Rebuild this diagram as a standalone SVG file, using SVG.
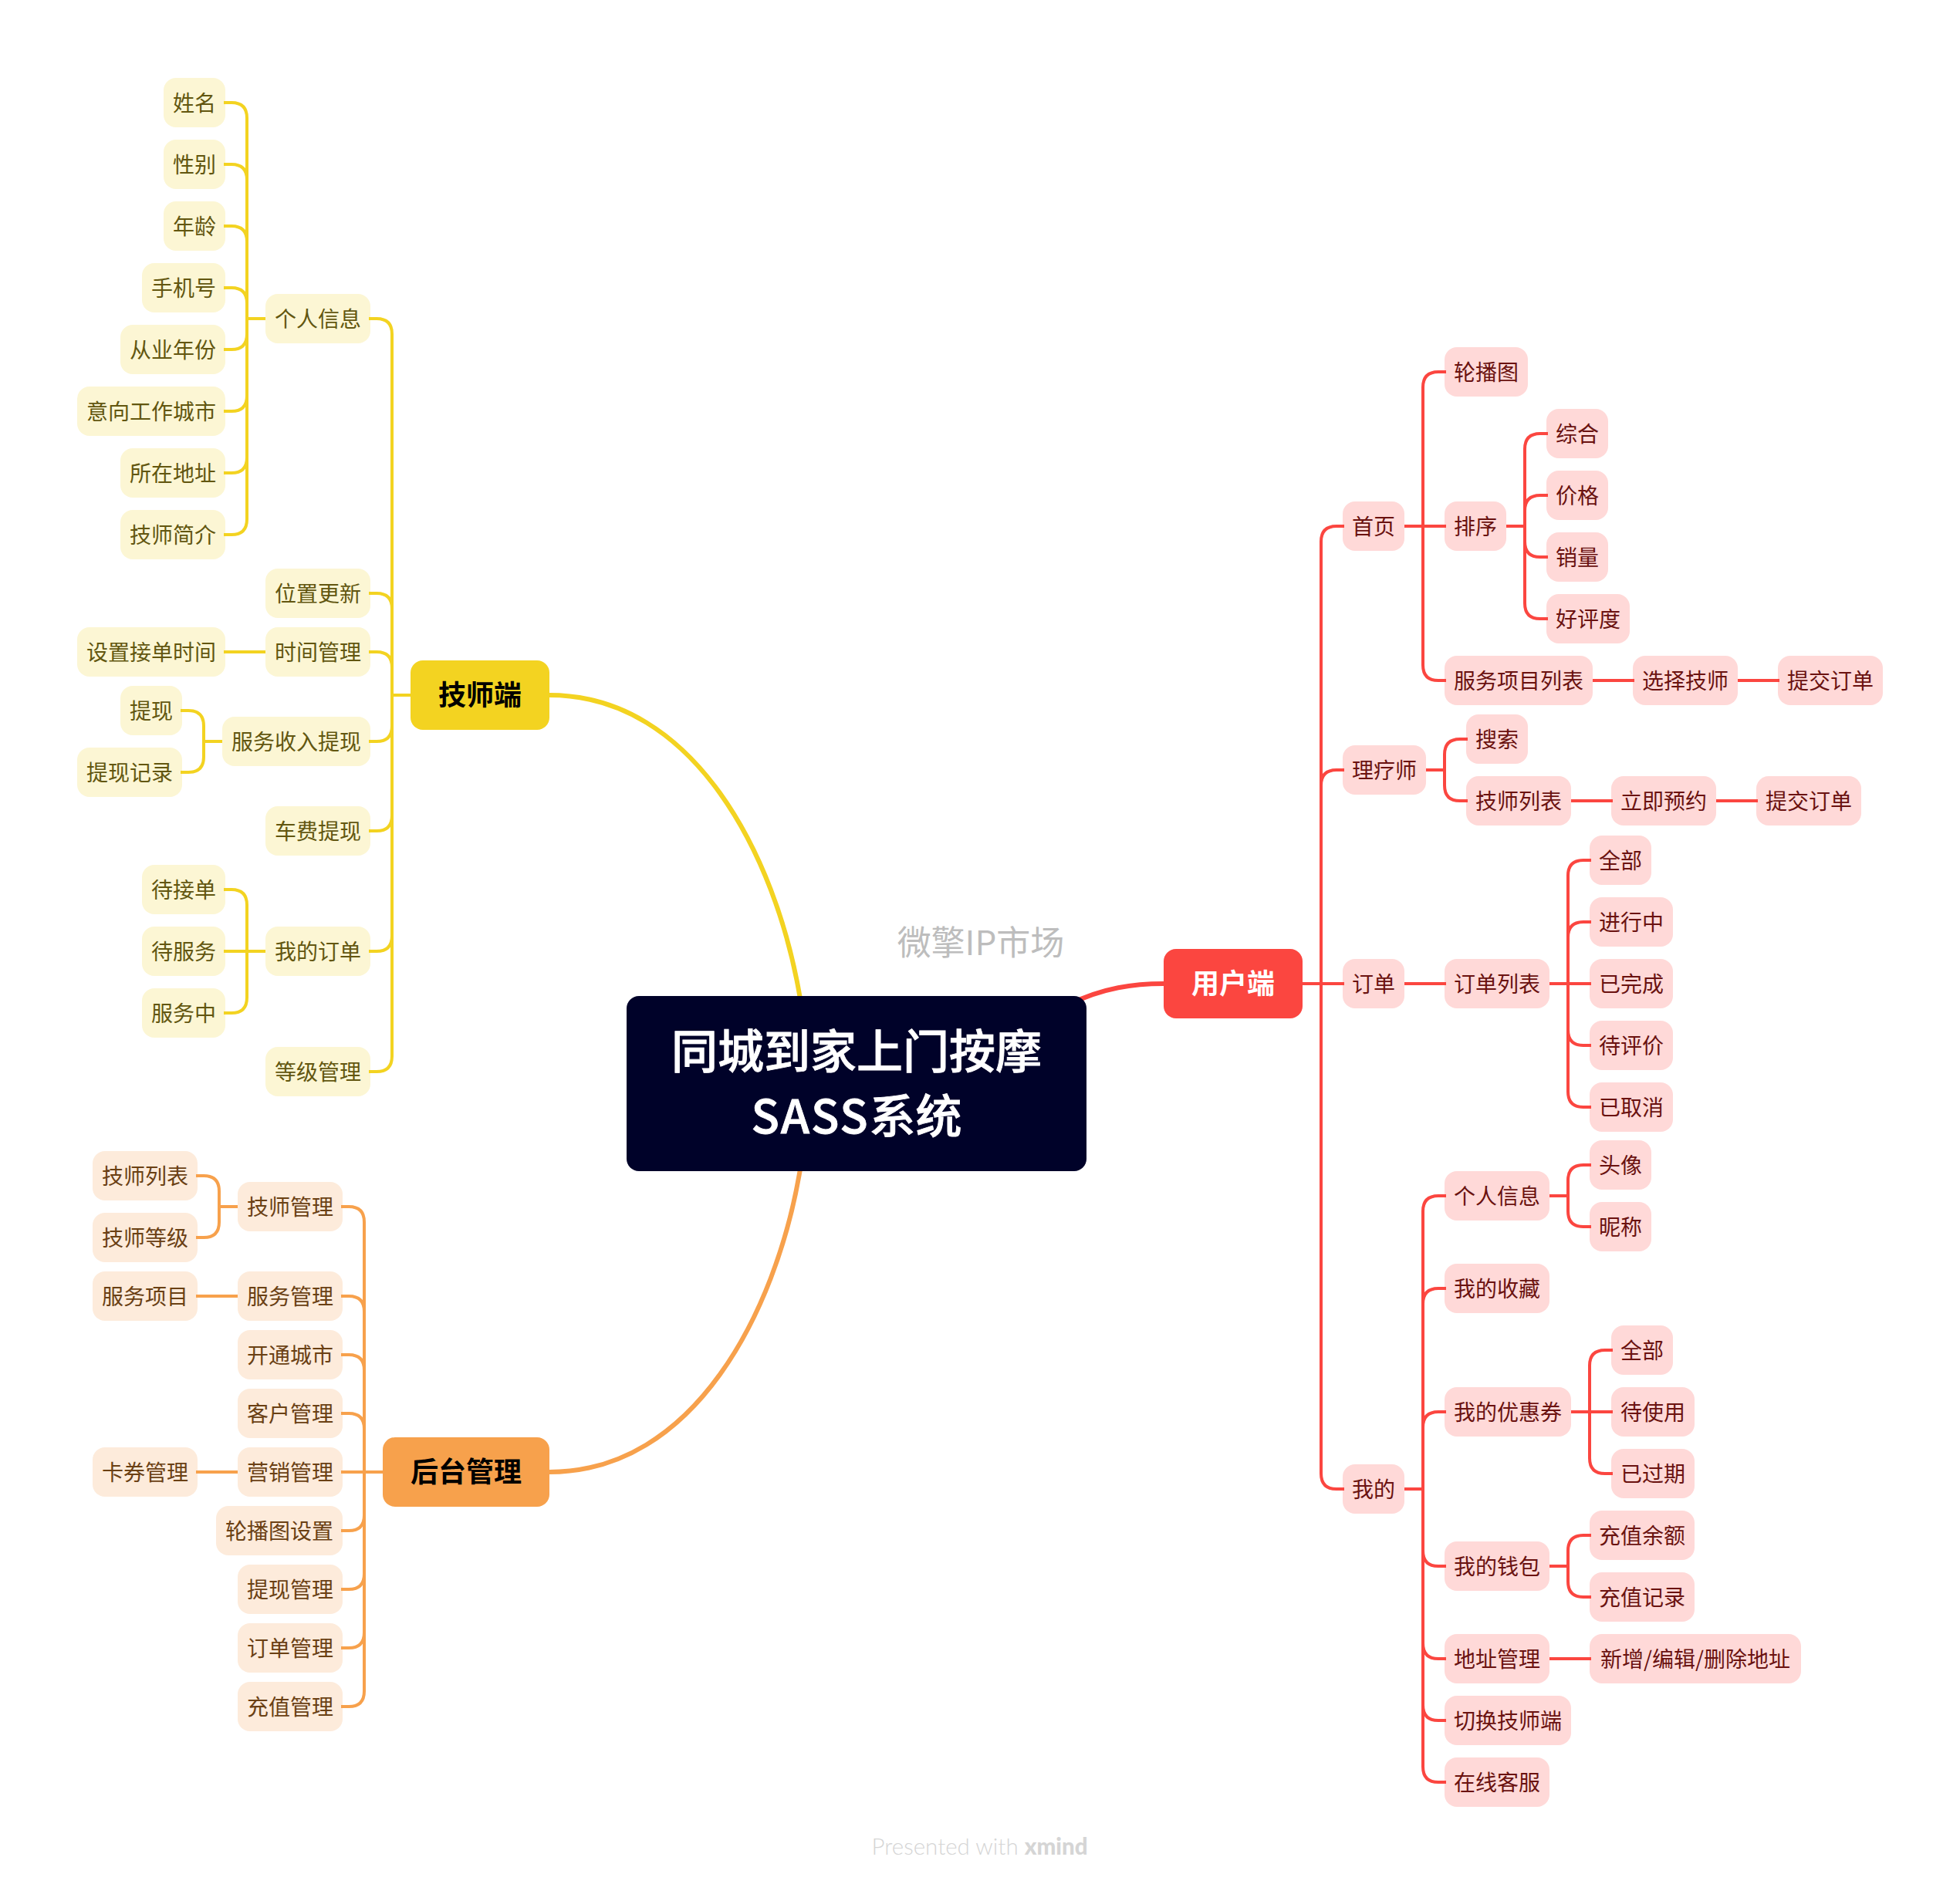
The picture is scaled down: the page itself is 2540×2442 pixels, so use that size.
<svg xmlns="http://www.w3.org/2000/svg" width="2540" height="2442" viewBox="0 0 2540 2442">
<style>
text{font-family:"Noto Sans CJK SC","Noto Sans",sans-serif;text-anchor:middle;font-size:28px}
.c path{fill:none;stroke-width:4}
.cy path{stroke:#F3D321}.cr path{stroke:#FB4640}.co path{stroke:#F7A14C}
.m path{stroke-width:6}
rect{rx:16px;ry:16px}
.y rect{fill:#FCF6D4}.y text{fill:#625610}
.r rect{fill:#FFD9D8}.r text{fill:#6A1210}
.o rect{fill:#FDEBDB}.o text{fill:#6A4014}
.main text{font-size:36px;font-weight:700;fill:#000}
#root text{font-size:60px;font-weight:500;fill:#fff;stroke:#fff;stroke-width:.8px}
</style>
<g id="nodes">
<g id="t-tech" class="main"><rect x="532" y="856" width="180" height="90" fill="#F3D321"/><text x="622" y="914">技师端</text></g>
<g id="t-user" class="main"><rect x="1508" y="1230" width="180" height="90" fill="#FB4640"/><text x="1598" y="1288" style="fill:#fff">用户端</text></g>
<g id="t-admin" class="main"><rect x="496" y="1863" width="216" height="90" fill="#F7A14C"/><text x="604" y="1921">后台管理</text></g>
<g class="y">
<g id="y1"><rect x="212" y="101" width="80" height="64"/><text x="252" y="143.6">姓名</text></g>
<g id="y2"><rect x="212" y="181" width="80" height="64"/><text x="252" y="223.6">性别</text></g>
<g id="y3"><rect x="212" y="261" width="80" height="64"/><text x="252" y="303.6">年龄</text></g>
<g id="y4"><rect x="184" y="341" width="108" height="64"/><text x="238" y="383.6">手机号</text></g>
<g id="y5"><rect x="156" y="421" width="136" height="64"/><text x="224" y="463.6">从业年份</text></g>
<g id="y6"><rect x="100" y="501" width="192" height="64"/><text x="196" y="543.6">意向工作城市</text></g>
<g id="y7"><rect x="156" y="581" width="136" height="64"/><text x="224" y="623.6">所在地址</text></g>
<g id="y8"><rect x="156" y="661" width="136" height="64"/><text x="224" y="703.6">技师简介</text></g>
<g id="y9"><rect x="344" y="381" width="136" height="64"/><text x="412" y="423.6">个人信息</text></g>
<g id="y10"><rect x="344" y="737" width="136" height="64"/><text x="412" y="779.6">位置更新</text></g>
<g id="y11"><rect x="344" y="813" width="136" height="64"/><text x="412" y="855.6">时间管理</text></g>
<g id="y12"><rect x="100" y="813" width="192" height="64"/><text x="196" y="855.6">设置接单时间</text></g>
<g id="y13"><rect x="288" y="929" width="192" height="64"/><text x="384" y="971.6">服务收入提现</text></g>
<g id="y14"><rect x="156" y="889" width="80" height="64"/><text x="196" y="931.6">提现</text></g>
<g id="y15"><rect x="100" y="969" width="136" height="64"/><text x="168" y="1011.6">提现记录</text></g>
<g id="y16"><rect x="344" y="1045" width="136" height="64"/><text x="412" y="1087.6">车费提现</text></g>
<g id="y17"><rect x="344" y="1201" width="136" height="64"/><text x="412" y="1243.6">我的订单</text></g>
<g id="y18"><rect x="184" y="1121" width="108" height="64"/><text x="238" y="1163.6">待接单</text></g>
<g id="y19"><rect x="184" y="1201" width="108" height="64"/><text x="238" y="1243.6">待服务</text></g>
<g id="y20"><rect x="184" y="1281" width="108" height="64"/><text x="238" y="1323.6">服务中</text></g>
<g id="y21"><rect x="344" y="1357" width="136" height="64"/><text x="412" y="1399.6">等级管理</text></g>
</g>
<g class="r">
<g id="r1"><rect x="1740" y="650" width="80" height="64"/><text x="1780" y="692.6">首页</text></g>
<g id="r2"><rect x="1872" y="450" width="108" height="64"/><text x="1926" y="492.6">轮播图</text></g>
<g id="r3"><rect x="1872" y="650" width="80" height="64"/><text x="1912" y="692.6">排序</text></g>
<g id="r4"><rect x="2004" y="530" width="80" height="64"/><text x="2044" y="572.6">综合</text></g>
<g id="r5"><rect x="2004" y="610" width="80" height="64"/><text x="2044" y="652.6">价格</text></g>
<g id="r6"><rect x="2004" y="690" width="80" height="64"/><text x="2044" y="732.6">销量</text></g>
<g id="r7"><rect x="2004" y="770" width="108" height="64"/><text x="2058" y="812.6">好评度</text></g>
<g id="r8"><rect x="1872" y="850" width="192" height="64"/><text x="1968" y="892.6">服务项目列表</text></g>
<g id="r9"><rect x="2116" y="850" width="136" height="64"/><text x="2184" y="892.6">选择技师</text></g>
<g id="r10"><rect x="2304" y="850" width="136" height="64"/><text x="2372" y="892.6">提交订单</text></g>
<g id="r11"><rect x="1740" y="966" width="108" height="64"/><text x="1794" y="1008.6">理疗师</text></g>
<g id="r12"><rect x="1900" y="926" width="80" height="64"/><text x="1940" y="968.6">搜索</text></g>
<g id="r13"><rect x="1900" y="1006" width="136" height="64"/><text x="1968" y="1048.6">技师列表</text></g>
<g id="r14"><rect x="2088" y="1006" width="136" height="64"/><text x="2156" y="1048.6">立即预约</text></g>
<g id="r15"><rect x="2276" y="1006" width="136" height="64"/><text x="2344" y="1048.6">提交订单</text></g>
<g id="r16"><rect x="1740" y="1243" width="80" height="64"/><text x="1780" y="1285.6">订单</text></g>
<g id="r17"><rect x="1872" y="1243" width="136" height="64"/><text x="1940" y="1285.6">订单列表</text></g>
<g id="r18"><rect x="2060" y="1083" width="80" height="64"/><text x="2100" y="1125.6">全部</text></g>
<g id="r19"><rect x="2060" y="1163" width="108" height="64"/><text x="2114" y="1205.6">进行中</text></g>
<g id="r20"><rect x="2060" y="1243" width="108" height="64"/><text x="2114" y="1285.6">已完成</text></g>
<g id="r21"><rect x="2060" y="1323" width="108" height="64"/><text x="2114" y="1365.6">待评价</text></g>
<g id="r22"><rect x="2060" y="1403" width="108" height="64"/><text x="2114" y="1445.6">已取消</text></g>
<g id="r23"><rect x="1740" y="1898" width="80" height="64"/><text x="1780" y="1940.6">我的</text></g>
<g id="r24"><rect x="1872" y="1518" width="136" height="64"/><text x="1940" y="1560.6">个人信息</text></g>
<g id="r25"><rect x="2060" y="1478" width="80" height="64"/><text x="2100" y="1520.6">头像</text></g>
<g id="r26"><rect x="2060" y="1558" width="80" height="64"/><text x="2100" y="1600.6">昵称</text></g>
<g id="r27"><rect x="1872" y="1638" width="136" height="64"/><text x="1940" y="1680.6">我的收藏</text></g>
<g id="r28"><rect x="1872" y="1798" width="164" height="64"/><text x="1954" y="1840.6">我的优惠券</text></g>
<g id="r29"><rect x="2088" y="1718" width="80" height="64"/><text x="2128" y="1760.6">全部</text></g>
<g id="r30"><rect x="2088" y="1798" width="108" height="64"/><text x="2142" y="1840.6">待使用</text></g>
<g id="r31"><rect x="2088" y="1878" width="108" height="64"/><text x="2142" y="1920.6">已过期</text></g>
<g id="r32"><rect x="1872" y="1998" width="136" height="64"/><text x="1940" y="2040.6">我的钱包</text></g>
<g id="r33"><rect x="2060" y="1958" width="136" height="64"/><text x="2128" y="2000.6">充值余额</text></g>
<g id="r34"><rect x="2060" y="2038" width="136" height="64"/><text x="2128" y="2080.6">充值记录</text></g>
<g id="r35"><rect x="1872" y="2118" width="136" height="64"/><text x="1940" y="2160.6">地址管理</text></g>
<g id="r36"><rect x="2060" y="2118" width="274" height="64"/><text x="2197" y="2160.6">新增/编辑/删除地址</text></g>
<g id="r37"><rect x="1872" y="2198" width="164" height="64"/><text x="1954" y="2240.6">切换技师端</text></g>
<g id="r38"><rect x="1872" y="2278" width="136" height="64"/><text x="1940" y="2320.6">在线客服</text></g>
</g>
<g class="o">
<g id="o1"><rect x="308" y="1532" width="136" height="64"/><text x="376" y="1574.6">技师管理</text></g>
<g id="o2"><rect x="120" y="1492" width="136" height="64"/><text x="188" y="1534.6">技师列表</text></g>
<g id="o3"><rect x="120" y="1572" width="136" height="64"/><text x="188" y="1614.6">技师等级</text></g>
<g id="o4"><rect x="308" y="1648" width="136" height="64"/><text x="376" y="1690.6">服务管理</text></g>
<g id="o5"><rect x="120" y="1648" width="136" height="64"/><text x="188" y="1690.6">服务项目</text></g>
<g id="o6"><rect x="308" y="1724" width="136" height="64"/><text x="376" y="1766.6">开通城市</text></g>
<g id="o7"><rect x="308" y="1800" width="136" height="64"/><text x="376" y="1842.6">客户管理</text></g>
<g id="o8"><rect x="308" y="1876" width="136" height="64"/><text x="376" y="1918.6">营销管理</text></g>
<g id="o9"><rect x="120" y="1876" width="136" height="64"/><text x="188" y="1918.6">卡券管理</text></g>
<g id="o10"><rect x="280" y="1952" width="164" height="64"/><text x="362" y="1994.6">轮播图设置</text></g>
<g id="o11"><rect x="308" y="2028" width="136" height="64"/><text x="376" y="2070.6">提现管理</text></g>
<g id="o12"><rect x="308" y="2104" width="136" height="64"/><text x="376" y="2146.6">订单管理</text></g>
<g id="o13"><rect x="308" y="2180" width="136" height="64"/><text x="376" y="2222.6">充值管理</text></g>
</g>
</g>
<g id="connectors" class="c">
<g class="cy m"><path d="M712 901C900 901 1005 1110 1036 1289L1040 1310"/></g>
<g class="cr m"><path d="M1385 1302C1430 1280 1470 1275 1508 1275"/></g>
<g class="co m"><path d="M712 1908C900 1908 1005 1700 1036 1521L1040 1500"/></g>
<g class="cy">
<path d="M532 901H508"/>
<path d="M478 413H488Q508 413 508 433V901"/>
<path d="M478 769H488Q508 769 508 789V901"/>
<path d="M478 845H488Q508 845 508 865V901"/>
<path d="M478 961H488Q508 961 508 941V901"/>
<path d="M478 1077H488Q508 1077 508 1057V901"/>
<path d="M478 1233H488Q508 1233 508 1213V901"/>
<path d="M478 1389H488Q508 1389 508 1369V901"/>
<path d="M344 413H320"/>
<path d="M290 133H300Q320 133 320 153V413"/>
<path d="M290 213H300Q320 213 320 233V413"/>
<path d="M290 293H300Q320 293 320 313V413"/>
<path d="M290 373H300Q320 373 320 393V413"/>
<path d="M290 453H300Q320 453 320 433V413"/>
<path d="M290 533H300Q320 533 320 513V413"/>
<path d="M290 613H300Q320 613 320 593V413"/>
<path d="M290 693H300Q320 693 320 673V413"/>
<path d="M344 845H290"/>
<path d="M288 961H264"/>
<path d="M234 921H244Q264 921 264 941V961"/>
<path d="M234 1001H244Q264 1001 264 981V961"/>
<path d="M344 1233H320"/>
<path d="M290 1153H300Q320 1153 320 1173V1233"/>
<path d="M290 1233H320"/>
<path d="M290 1313H300Q320 1313 320 1293V1233"/>
</g>
<g class="cr">
<path d="M1688 1275H1712"/>
<path d="M1742 682H1732Q1712 682 1712 702V1275"/>
<path d="M1742 998H1732Q1712 998 1712 1018V1275"/>
<path d="M1742 1275H1712"/>
<path d="M1742 1930H1732Q1712 1930 1712 1910V1275"/>
<path d="M1820 682H1844"/>
<path d="M1874 482H1864Q1844 482 1844 502V682"/>
<path d="M1874 682H1844"/>
<path d="M1874 882H1864Q1844 882 1844 862V682"/>
<path d="M1952 682H1976"/>
<path d="M2006 562H1996Q1976 562 1976 582V682"/>
<path d="M2006 642H1996Q1976 642 1976 662V682"/>
<path d="M2006 722H1996Q1976 722 1976 702V682"/>
<path d="M2006 802H1996Q1976 802 1976 782V682"/>
<path d="M2064 882H2118"/>
<path d="M2252 882H2306"/>
<path d="M1848 998H1872"/>
<path d="M1902 958H1892Q1872 958 1872 978V998"/>
<path d="M1902 1038H1892Q1872 1038 1872 1018V998"/>
<path d="M2036 1038H2090"/>
<path d="M2224 1038H2278"/>
<path d="M1820 1275H1874"/>
<path d="M2008 1275H2032"/>
<path d="M2062 1115H2052Q2032 1115 2032 1135V1275"/>
<path d="M2062 1195H2052Q2032 1195 2032 1215V1275"/>
<path d="M2062 1275H2032"/>
<path d="M2062 1355H2052Q2032 1355 2032 1335V1275"/>
<path d="M2062 1435H2052Q2032 1435 2032 1415V1275"/>
<path d="M1820 1930H1844"/>
<path d="M1874 1550H1864Q1844 1550 1844 1570V1930"/>
<path d="M1874 1670H1864Q1844 1670 1844 1690V1930"/>
<path d="M1874 1830H1864Q1844 1830 1844 1850V1930"/>
<path d="M1874 2030H1864Q1844 2030 1844 2010V1930"/>
<path d="M1874 2150H1864Q1844 2150 1844 2130V1930"/>
<path d="M1874 2230H1864Q1844 2230 1844 2210V1930"/>
<path d="M1874 2310H1864Q1844 2310 1844 2290V1930"/>
<path d="M2008 1550H2032"/>
<path d="M2062 1510H2052Q2032 1510 2032 1530V1550"/>
<path d="M2062 1590H2052Q2032 1590 2032 1570V1550"/>
<path d="M2036 1830H2060"/>
<path d="M2090 1750H2080Q2060 1750 2060 1770V1830"/>
<path d="M2090 1830H2060"/>
<path d="M2090 1910H2080Q2060 1910 2060 1890V1830"/>
<path d="M2008 2030H2032"/>
<path d="M2062 1990H2052Q2032 1990 2032 2010V2030"/>
<path d="M2062 2070H2052Q2032 2070 2032 2050V2030"/>
<path d="M2008 2150H2062"/>
</g>
<g class="co">
<path d="M496 1908H472"/>
<path d="M442 1564H452Q472 1564 472 1584V1908"/>
<path d="M442 1680H452Q472 1680 472 1700V1908"/>
<path d="M442 1756H452Q472 1756 472 1776V1908"/>
<path d="M442 1832H452Q472 1832 472 1852V1908"/>
<path d="M442 1908H472"/>
<path d="M442 1984H452Q472 1984 472 1964V1908"/>
<path d="M442 2060H452Q472 2060 472 2040V1908"/>
<path d="M442 2136H452Q472 2136 472 2116V1908"/>
<path d="M442 2212H452Q472 2212 472 2192V1908"/>
<path d="M308 1564H284"/>
<path d="M254 1524H264Q284 1524 284 1544V1564"/>
<path d="M254 1604H264Q284 1604 284 1584V1564"/>
<path d="M308 1680H254"/>
<path d="M308 1908H254"/>
</g>
</g>
<g id="root"><rect x="812" y="1291" width="596" height="227" fill="#000229"/><text x="1110" y="1385">同城到家上门按摩</text><text x="1110" y="1469"><tspan letter-spacing="1.8">SASS</tspan>系统</text></g>
<text x="1271" y="1238" style="font-size:44px;fill:#BDBDBD;font-weight:400">微擎IP市场</text>
<text x="1269.500" y="2404" style="font-family:Lato,sans-serif;font-size:29.5px;fill:#D5D5D5;font-weight:300">Presented with <tspan font-weight="900">xmind</tspan></text>
</svg>
